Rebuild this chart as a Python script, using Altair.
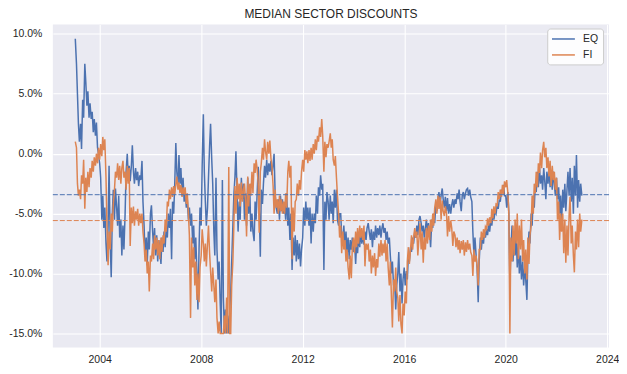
import altair as alt
import pandas as pd

TITLE = "MEDIAN SECTOR DISCOUNTS"
SERIES = ["EQ", "FI"]
COLORS = ["#4C72B0", "#DD8452"]
Y_TICKS = [-15, -10, -5, 0, 5, 10]
X_TICK_YEARS = [2004, 2008, 2012, 2016, 2020, 2024]
REF_LEVELS = [-3.42, -5.58]   # dashed horizontal reference lines (EQ, FI)
START = "2003-01-15"          # first observation; semi-monthly (1st / 15th) afterwards

# ---- EQ median discount (%), semi-monthly readings ----
EQ_2003 = [9.6, 7.5, 5.0, 2.5, 1.0, 2.5, 0.4, 4.5, 3.0, 7.5, 6.0, 4.0, 5.2, 3.0, 4.2, 2.9, 3.5, 1.8, 2.9, 1.5, 2.6, 0.5, 0.0]
EQ_2004 = [-0.8, -2.0, -5.5, -3.5, -6.2, -4.5, -7.5, -9.0, -6.0, -1.0, -7.5, -10.3, -5.0, -3.0, -5.5, -2.9, -4.5, -6.0, -3.5, -7.0, -5.5, -8.5, -6.0, -8.0]
EQ_2005 = [-5.0, -1.5, 0.0, -2.0, -1.0, -2.3, -1.0, 0.7, -1.5, -2.5, -1.2, -2.2, -1.5, -2.7, -1.8, -2.2, -0.6, -4.0, -6.0, -8.5, -7.0, -9.3, -6.5, -8.0]
EQ_2006 = [-5.0, -4.3, -6.5, -7.8, -6.2, -8.5, -6.8, -9.0, -7.2, -8.0, -9.2, -7.0, -8.2, -6.5, -7.8, -6.2, -7.0, -5.0, -6.2, -4.6, -8.8, -4.0, -5.0, -2.8]
EQ_2007 = [0.9, -1.5, -2.8, -0.1, -2.5, -1.2, -3.5, -2.0, -4.0, -3.2, -4.5, -3.8, -5.5, -4.5, -6.0, -5.0, -7.5, -6.0, -8.8, -7.0, -10.0, -13.0, -8.0, -4.5]
EQ_2008 = [-6.0, -1.0, 3.3, -1.5, -4.0, -6.0, -4.5, -2.0, 0.6, 2.5, -0.5, -2.5, -6.5, -8.5, -2.0, -8.0, -10.5, -9.0, -12.5, -15.0, -2.2, -12.0, -15.0, -13.0]
EQ_2009 = [-15.0, -13.5, -15.0, -13.0, -11.5, -9.0, -6.0, -3.5, -1.9, 0.2, -3.5, -6.5, -4.0, -5.5, -2.0, -3.8, -2.5, -5.5, -3.3, -6.0, -2.0, -5.0, -3.0, -6.5]
EQ_2010 = [-5.0, -6.5, -7.3, -4.0, -5.5, -3.5, -1.1, -4.5, -8.6, -3.0, -4.2, -2.5, -1.0, -2.0, -0.5, -1.8, -0.8, -1.5, -0.6, -1.8, -0.9, 0.0, -3.5, -4.5]
EQ_2011 = [-5.0, -3.8, -5.5, -3.5, -4.8, -3.8, -5.0, -4.2, -5.5, -3.3, -6.0, -4.5, -7.2, -5.0, -9.7, -7.0, -8.5, -6.8, -9.0, -7.2, -8.8, -7.5, -9.4, -8.0]
EQ_2012 = [-7.0, -4.5, -6.0, -4.0, -5.5, -4.5, -6.0, -4.5, -7.5, -5.0, -6.5, -5.0, -5.8, -3.5, -5.0, -2.8, -3.5, -1.8, -3.0, -2.5, -9.7, -4.0, -5.5, -3.2]
EQ_2013 = [-4.0, -5.5, -3.5, -5.0, -4.0, -5.8, -3.0, -4.5, -3.0, -5.5, -6.0, -5.0, -5.0, -6.8, -7.5, -6.0, -7.8, -6.5, -8.5, -7.0, -8.8, -7.2, -8.0, -7.0]
EQ_2014 = [-8.2, -7.2, -9.2, -7.5, -8.3, -6.8, -7.8, -6.5, -7.5, -6.8, -7.6, -6.5, -7.2, -6.2, -5.8, -6.5, -7.2, -6.3, -7.8, -6.5, -7.2, -6.0, -7.0, -6.2]
EQ_2015 = [-6.8, -6.0, -7.0, -6.2, -5.8, -6.6, -6.2, -7.2, -6.5, -7.5, -7.0, -8.5, -10.0, -9.0, -11.0, -10.5, -13.0, -11.0, -10.0, -8.2, -11.5, -10.0, -12.5, -10.5]
EQ_2016 = [-9.5, -11.0, -9.8, -10.5, -8.5, -9.0, -7.8, -8.2, -7.0, -7.5, -6.5, -7.0, -6.0, -6.8, -5.5, -5.2, -5.8, -6.5, -6.0, -7.0, -6.2, -5.5, -6.5, -5.8]
EQ_2017 = [-6.5, -7.8, -5.5, -6.2, -5.0, -5.8, -4.2, -4.8, -3.8, -3.2, -4.2, -3.5, -2.9, -3.8, -4.5, -3.6, -4.8, -3.7, -5.0, -4.2, -5.0, -4.3, -3.8, -4.5]
EQ_2018 = [-3.8, -4.2, -3.3, -3.8, -3.0, -4.0, -4.8, -3.5, -3.2, -3.8, -3.3, -3.0, -2.9, -3.5, -3.0, -3.6, -4.0, -6.5, -8.5, -7.0, -8.5, -9.5, -12.4, -9.0]
EQ_2019 = [-7.0, -8.0, -6.8, -7.5, -6.5, -7.0, -6.3, -6.8, -5.8, -6.5, -5.5, -6.0, -5.0, -5.5, -4.8, -5.0, -4.2, -4.6, -3.8, -4.0, -3.0, -3.3, -2.6, -3.5]
EQ_2020 = [-3.5, -4.5, -3.2, -5.0, -11.0, -8.0, -6.0, -9.0, -6.5, -8.5, -7.0, -9.5, -7.5, -10.0, -8.5, -10.5, -9.0, -11.0, -9.5, -10.5, -12.2, -8.5, -6.5, -7.5]
EQ_2021 = [-5.0, -6.0, -3.5, -4.5, -2.5, -3.2, -1.5, -2.8, -1.1, -2.5, -1.8, -3.0, -1.2, -2.2, -3.8, -1.5, -2.5, -1.2, -2.8, -1.8, -3.0, -1.5, -2.5, -3.5]
EQ_2022 = [-2.0, -3.8, -2.8, -5.0, -3.5, -5.8, -3.0, -4.5, -2.5, -4.8, -3.0, -1.5, -3.5, -1.2, -4.0, -2.0, -5.0, -1.0, -3.5, -0.1, -4.5, -2.2, -4.0, -2.5]
EQ_2023 = [-3.5]

# ---- FI median discount (%), semi-monthly readings ----
FI_2003 = [1.0, 0.5, -2.5, -3.5, -3.0, -3.8, -1.8, -2.5, -0.5, -4.6, -2.0, -3.2, -1.5, -2.8, -1.2, -2.0, -0.6, -1.5, -0.3, -1.0, 0.0, -0.8, 0.5]
FI_2004 = [-0.5, 0.8, -0.2, 1.4, 0.3, 1.2, -2.0, -6.0, -9.3, -6.5, -8.0, -5.0, -6.5, -4.2, -3.0, -1.5, -2.0, -0.8, -2.2, -1.0, -2.5, -1.2, -0.6, -2.0]
FI_2005 = [-1.5, -3.0, -1.0, -2.5, -1.2, -7.7, -4.5, -5.8, -4.4, -6.0, -4.8, -5.5, -4.6, -6.0, -5.0, -5.8, -5.0, -6.5, -7.5, -9.0, -8.0, -10.0, -9.0, -11.5]
FI_2006 = [-8.5, -9.0, -7.5, -8.8, -6.8, -8.0, -7.0, -8.5, -7.2, -8.8, -7.0, -8.2, -6.8, -7.5, -5.5, -6.5, -4.0, -4.4, -3.0, -3.8, -2.8, -3.6, -2.7, -3.4]
FI_2007 = [-2.6, -1.9, -3.0, -2.4, -3.3, -2.6, -3.6, -2.8, -3.4, -2.8, -4.2, -3.3, -5.0, -6.8, -13.7, -7.0, -9.5, -7.8, -11.0, -9.0, -12.2, -10.0, -12.4, -9.5]
FI_2008 = [-8.5, -6.3, -7.5, -9.0, -7.5, -9.4, -7.5, -6.0, -8.3, -9.8, -11.5, -9.5, -11.0, -12.4, -10.5, -13.7, -15.0, -14.0, -15.0, -15.0, -15.0, -15.0, -13.5, -15.0]
FI_2009 = [-12.0, -15.0, -1.1, -15.0, -15.0, -11.0, -9.0, -6.0, -2.7, -5.0, -2.0, -3.8, -2.5, -4.4, -2.4, -4.0, -3.0, -2.5, -4.0, -6.9, -1.9, -4.4, -2.5, -3.5]
FI_2010 = [-1.5, -3.3, -0.8, -1.6, -0.5, -1.2, -2.5, -6.6, -1.5, -0.8, 0.5, -0.5, 1.2, 0.2, -0.5, 1.0, 0.0, 1.1, -0.4, -1.0, -2.7, -5.0, -3.0, -4.5]
FI_2011 = [-3.8, -5.0, -3.5, -4.8, -3.8, -5.0, -4.0, -5.0, -3.3, -4.5, -1.5, -0.6, -2.0, -1.0, -8.8, -4.5, -6.5, -4.0, -3.8, -2.5, -3.5, -2.2, -3.0, -1.5]
FI_2012 = [-0.5, -1.5, 0.3, -0.5, 0.2, -0.8, 0.3, -0.6, 0.5, -0.5, 0.8, 0.0, 1.2, 0.3, 1.5, 1.0, 2.2, 1.4, 2.9, 1.5, -1.5, 1.0, -0.3, 0.8]
FI_2013 = [0.5, 1.0, 1.7, 0.5, 1.2, -0.5, -1.0, -0.2, -2.0, -3.5, -5.0, -7.0, -6.0, -8.3, -6.5, -8.0, -7.2, -9.0, -8.0, -9.5, -10.5, -8.5, -10.4, -7.8]
FI_2014 = [-7.0, -8.3, -6.5, -7.8, -6.2, -7.5, -6.0, -7.0, -6.2, -7.2, -6.0, -9.4, -7.5, -8.0, -7.5, -9.0, -8.0, -10.0, -8.5, -9.5, -8.3, -10.2, -8.8, -9.5]
FI_2015 = [-7.5, -8.6, -7.2, -8.5, -7.5, -8.3, -7.2, -9.0, -7.5, -9.5, -11.0, -9.0, -12.0, -14.5, -10.5, -11.5, -9.5, -11.5, -12.0, -14.0, -11.8, -14.2, -15.0, -12.5]
FI_2016 = [-13.5, -11.5, -12.5, -9.0, -7.8, -9.2, -8.0, -6.8, -8.0, -7.0, -6.2, -7.0, -6.5, -8.5, -7.0, -5.8, -8.0, -6.5, -9.1, -7.0, -8.0, -6.2, -7.5, -6.0]
FI_2017 = [-7.2, -5.5, -6.5, -5.0, -6.0, -4.5, -3.8, -5.0, -3.5, -4.6, -3.6, -5.5, -3.9, -4.8, -5.2, -4.4, -5.0, -6.9, -5.2, -6.5, -5.6, -6.2, -7.7, -6.5]
FI_2018 = [-6.8, -7.8, -7.0, -8.0, -7.2, -8.3, -7.3, -8.0, -7.2, -8.5, -7.4, -8.2, -7.2, -8.0, -7.5, -8.2, -8.5, -10.2, -8.0, -9.0, -8.5, -9.5, -11.0, -8.0]
FI_2019 = [-8.0, -6.5, -7.2, -6.3, -7.0, -6.1, -6.3, -5.4, -6.0, -5.3, -5.8, -4.6, -5.4, -4.4, -5.0, -4.2, -4.3, -3.2, -3.8, -3.0, -3.6, -2.6, -3.4, -2.3]
FI_2020 = [-2.8, -2.2, -3.3, -5.0, -15.0, -7.0, -9.0, -6.0, -8.5, -5.5, -7.5, -5.0, -8.8, -6.0, -8.0, -5.5, -9.0, -7.2, -10.0, -8.0, -10.5, -7.0, -9.2, -6.8]
FI_2021 = [-6.0, -3.5, -5.0, -2.5, -3.3, -1.5, -2.8, -0.8, -1.6, 0.1, -1.2, 0.3, 1.0, -0.3, 0.5, -1.2, -0.3, -1.9, -0.6, -2.7, -1.0, -2.2, -1.5, -3.0]
FI_2022 = [-2.0, -5.5, -4.0, -7.2, -5.0, -6.5, -5.0, -8.3, -5.5, -9.1, -6.0, -8.5, -5.2, -3.6, -7.5, -6.0, -8.5, -9.9, -6.5, -8.0, -5.5, -7.8, -5.0, -6.5]
FI_2023 = [-5.5]

eq = (EQ_2003 + EQ_2004 + EQ_2005 + EQ_2006 + EQ_2007 + EQ_2008 + EQ_2009 + EQ_2010
      + EQ_2011 + EQ_2012 + EQ_2013 + EQ_2014 + EQ_2015 + EQ_2016 + EQ_2017 + EQ_2018
      + EQ_2019 + EQ_2020 + EQ_2021 + EQ_2022 + EQ_2023)
fi = (FI_2003 + FI_2004 + FI_2005 + FI_2006 + FI_2007 + FI_2008 + FI_2009 + FI_2010
      + FI_2011 + FI_2012 + FI_2013 + FI_2014 + FI_2015 + FI_2016 + FI_2017 + FI_2018
      + FI_2019 + FI_2020 + FI_2021 + FI_2022 + FI_2023)
n = min(len(eq), len(fi))
eq, fi = eq[:n], fi[:n]
dates = list(pd.date_range(START, periods=n, freq="SMS"))

df = pd.DataFrame({
    "date": dates + dates,
    "value": eq + fi,
    "series": [SERIES[0]] * n + [SERIES[1]] * n,
})
rules = pd.DataFrame({"value": REF_LEVELS, "series": SERIES})

FONT = "Liberation Sans"
TXT = "#262626"

x_enc = alt.X(
    "date:T",
    scale=alt.Scale(domain=[alt.DateTime(year=2002, month=2, date=26),
                            alt.DateTime(year=2024, month=1, date=27)]),
    axis=alt.Axis(values=[alt.DateTime(year=y, month=1, date=1) for y in X_TICK_YEARS],
                  format="%Y", title=None, labelPadding=7),
)
y_enc = alt.Y(
    "value:Q",
    scale=alt.Scale(domain=[-16.17, 10.78], nice=False, zero=False),
    axis=alt.Axis(values=Y_TICKS, title=None, labelPadding=11,
                  labelExpr="(datum.value < 0 ? '-' : '') + format(abs(datum.value), '.1f') + '%'"),
)

lines = alt.Chart(df).mark_line(strokeWidth=1.5).encode(
    x=x_enc,
    y=y_enc,
    color=alt.Color(
        "series:N",
        scale=alt.Scale(domain=SERIES, range=COLORS),
        legend=alt.Legend(
            title=None, orient="none", legendX=496, legendY=4,
            symbolType="M-1,0H3", symbolSize=132, symbolStrokeWidth=1.5,
            labelFontSize=10.5, labelFont=FONT, labelColor=TXT,
            fillColor="#FDFDFE", strokeColor="#CCCCCC", cornerRadius=3,
            padding=4, rowPadding=4, labelOffset=19,
        ),
    ),
    detail="series:N",
)

rule_layers = [
    alt.Chart(rules).transform_filter(alt.datum.series == s)
    .mark_rule(color=c, strokeWidth=1, strokeDash=[5, 2])
    .encode(y=alt.Y("value:Q"))
    for s, c in zip(SERIES, COLORS)
]

chart = alt.layer(lines, *rule_layers).properties(
    width=558, height=324,
    background="#FFFFFF",
    title=alt.TitleParams(TITLE, font=FONT, fontSize=12, fontWeight="normal", color=TXT,
                          anchor="middle", frame="group", offset=3.5),
    padding={"left": 0, "top": -1, "right": 0, "bottom": 0},
).configure_view(
    fill="#EAEAF2", strokeWidth=0
).configure_axis(
    domain=False, ticks=False, grid=True, gridColor="#FFFFFF", gridWidth=1.1,
    labelFont=FONT, labelFontSize=10.5, labelColor=TXT,
)

chart.save("out.html", embed_options={"renderer": "svg", "actions": False})
